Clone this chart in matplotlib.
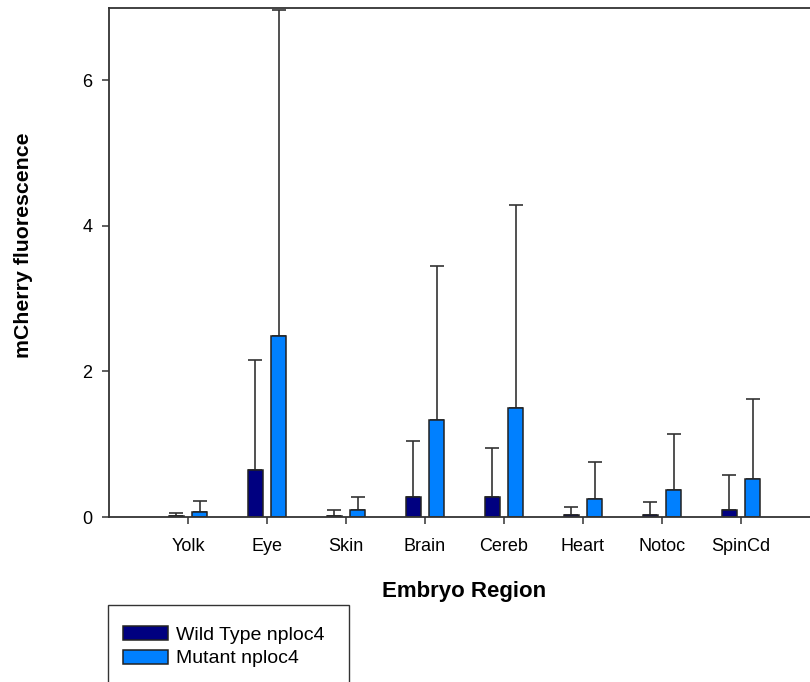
import matplotlib
matplotlib.use("Agg")
import matplotlib.pyplot as plt
import numpy as np
from matplotlib.patches import Rectangle

plt.rcParams['font.family'] = ['Liberation Sans', 'DejaVu Sans']

regions = ["Yolk", "Eye", "Skin", "Brain", "Cereb", "Heart", "Notoc", "SpinCd"]
wt_mean = [0.02, 0.64, 0.02, 0.28, 0.28, 0.03, 0.03, 0.10]
wt_err = [0.03, 1.52, 0.08, 0.77, 0.67, 0.11, 0.18, 0.48]
mut_mean = [0.065, 2.49, 0.10, 1.33, 1.50, 0.25, 0.37, 0.52]
mut_err = [0.155, 4.47, 0.17, 2.12, 2.79, 0.50, 0.77, 1.10]
series_names = ["Wild Type nploc4", "Mutant nploc4"]
yticks = [0, 2, 4, 6]

W, H = 810, 682
fig = plt.figure(figsize=(W / 100, H / 100), dpi=100)
# axes extends slightly beyond the right edge as in the reference
ax = fig.add_axes([109 / W, 1 - 517 / H, (820 - 109) / W, (517 - 7.5) / H])

x = np.arange(len(regions))
bw = 0.19
off = 0.15
edge = '#222222'
b1 = ax.bar(x - off, wt_mean, bw, color='#000080', edgecolor=edge, linewidth=1.1,
            label=series_names[0], zorder=2)
b2 = ax.bar(x + off, mut_mean, bw, color='#0080FF', edgecolor=edge, linewidth=1.1,
            label=series_names[1], zorder=2)
ax.errorbar(x - off, wt_mean, yerr=[np.zeros(len(x)), wt_err], fmt='none',
            ecolor='#333333', elinewidth=1.2, capsize=5.3, capthick=1.2, zorder=1)
ax.errorbar(x + off, mut_mean, yerr=[np.zeros(len(x)), mut_err], fmt='none',
            ecolor='#333333', elinewidth=1.2, capsize=5.3, capthick=1.2, zorder=1)

ax.set_xlim(-1, 8)
ax.set_ylim(0, 7)
ax.set_xticks(x)
ax.set_xticklabels(regions)
ax.set_yticks(yticks)
ax.set_yticklabels([str(t) for t in yticks])
ax.tick_params(axis='both', direction='out', length=5, width=1.1, color='#333333',
               labelsize=13)
ax.tick_params(axis='x', pad=10)
ax.tick_params(axis='y', pad=7)
for s in ax.spines.values():
    s.set_color('#333333')
    s.set_linewidth(1.3)

fig.text(464.5 / W, 1 - 597.5 / H, "Embryo Region", fontsize=16, fontweight='bold',
         ha='center', va='baseline')
fig.text(24 / W, 1 - 245 / H, "mCherry fluorescence", rotation=90, fontsize=15.3,
         fontweight='bold', ha='center', va='center')

# legend box (extends below the figure edge)
fig.add_artist(Rectangle((108.5 / W, -0.05), (348.5 - 108.5) / W, 0.05 + (682 - 605) / H,
                         transform=fig.transFigure, fill=False, edgecolor='#333333',
                         linewidth=1.0))
fig.legend(handles=[b1, b2], labels=series_names, loc='upper left',
           bbox_to_anchor=(109 / W, 1 - 612.5 / H), frameon=False, fontsize=14,
           handlelength=2.35, handleheight=0.72, handletextpad=0.4, labelspacing=0.3,
           borderpad=0.2)

fig.savefig("out.png", dpi=100)
